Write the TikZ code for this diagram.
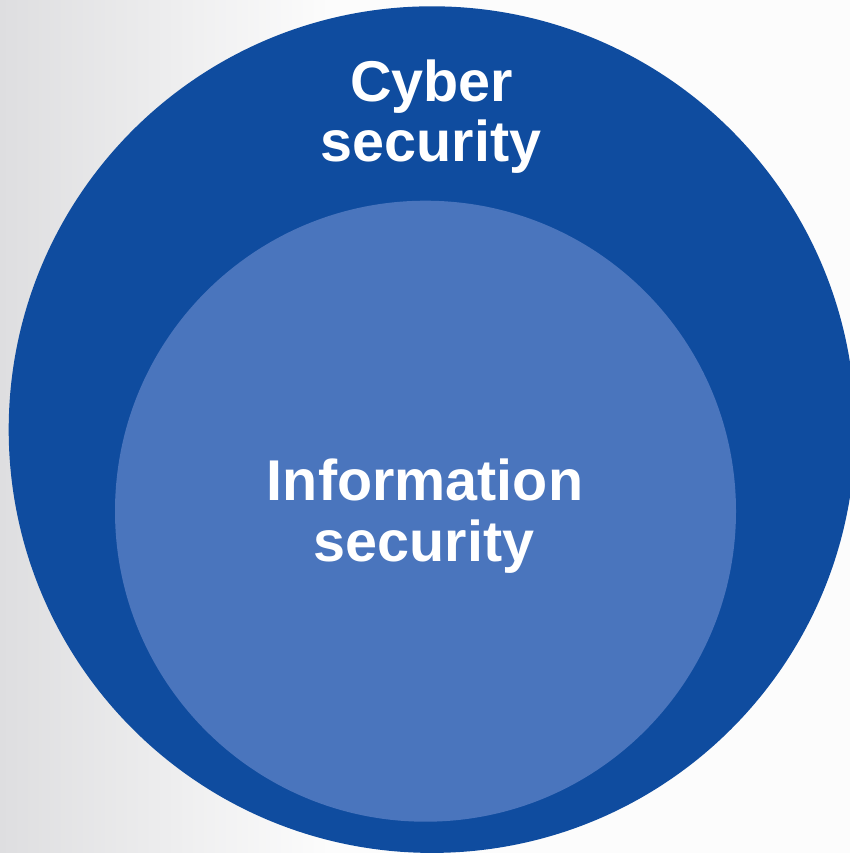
\documentclass[tikz,border=0pt]{standalone}
\usepackage{fontspec}
\setmainfont{Liberation Sans}
\definecolor{outerblue}{RGB}{15,76,159}
\definecolor{innerblue}{RGB}{74,117,189}
\definecolor{bggray}{RGB}{222,222,224}
\definecolor{bgwhite}{RGB}{252,252,252}
\begin{document}
\begin{tikzpicture}[x=1pt,y=-1pt,
  label/.style={text=white,font=\fontsize{57.5}{60}\selectfont\bfseries,anchor=base,inner sep=0pt}]
\useasboundingbox (0,0) rectangle (850,853);
\clip (0,0) rectangle (850,853);
\fill[bgwhite] (0,0) rectangle (850,853);
\fill[left color=bggray,right color=bgwhite] (0,0) rectangle (330,853);
\fill[outerblue] (432,429.6) circle[radius=423.3];
\fill[innerblue] (425.5,511.2) circle[radius=310.5];
\node[label] (c1) at (431.5,101.7) {Cyber};
\node[label] (c2) at (431,161.7) {security};
\node[label] (i1) at (425,500.7) {Information};
\node[label] (i2) at (424,561.7) {security};
\end{tikzpicture}
\end{document}
